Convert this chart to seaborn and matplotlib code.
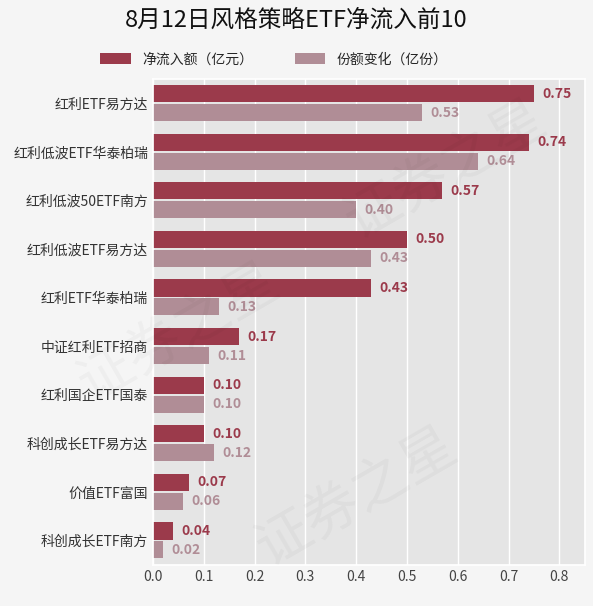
import matplotlib
matplotlib.use("Agg")
import matplotlib.pyplot as plt
import seaborn as sns
import pandas as pd
import numpy as np

categories = ["红利ETF易方达", "红利低波ETF华泰柏瑞", "红利低波50ETF南方", "红利低波ETF易方达",
              "红利ETF华泰柏瑞", "中证红利ETF招商", "红利国企ETF国泰", "科创成长ETF易方达",
              "价值ETF富国", "科创成长ETF南方"]
inflow = [0.75, 0.74, 0.57, 0.50, 0.43, 0.17, 0.10, 0.10, 0.07, 0.04]
shares = [0.53, 0.64, 0.40, 0.43, 0.13, 0.11, 0.10, 0.12, 0.06, 0.02]
series_names = ["净流入额（亿元）", "份额变化（亿份）"]
colors = ["#9b3a4b", "#b08d96"]

sns.set_theme(style="darkgrid", rc={"axes.facecolor": "#e5e5e5", "figure.facecolor": "#f5f5f5",
                                    "grid.color": "white"})
plt.rcParams['font.family'] = ['Noto Sans CJK SC', 'DejaVu Sans']

df = pd.DataFrame({"cat": categories * 2,
                   "val": inflow + shares,
                   "series": [series_names[0]] * 10 + [series_names[1]] * 10})

fig = plt.figure(figsize=(5.93, 6.06), dpi=100)
ax = fig.add_axes([0.258, 0.068, 0.728, 0.802])
sns.barplot(data=df, y="cat", x="val", hue="series", palette=colors, orient="h",
            width=0.78, gap=0.1, ax=ax, legend=True, linewidth=0, saturation=1)
for cont, col in zip(ax.containers, colors):
    ax.bar_label(cont, fmt="%.2f", padding=6, color=col, fontsize=10, fontweight="bold")
ax.set_xlim(0, 0.85)
ax.set_xticks(np.arange(0, 0.81, 0.1))
ax.set_xticklabels([f"{v:.1f}" for v in np.arange(0, 0.81, 0.1)], fontsize=10, color="#444444")
ax.tick_params(axis="y", labelsize=10, labelcolor="#333333", length=0)
ax.tick_params(axis="x", length=0)
ax.set_xlabel("")
ax.set_ylabel("")
ax.grid(axis="y", visible=False)
ax.legend(loc="lower center", bbox_to_anchor=(0.28, 1.0), ncol=2, frameon=False, fontsize=10,
          handlelength=2.2, handleheight=0.8, columnspacing=3)
fig.suptitle("8月12日风格策略ETF净流入前10", fontsize=17, y=0.985, color="#111111")
for (x, y) in [(0.3, 0.45), (0.75, 0.72), (0.6, 0.18)]:
    fig.text(x, y, "证券之星", fontsize=40, color="#000000", alpha=0.03, rotation=30,
             ha="center", va="center")
fig.savefig("out.png", dpi=100)
